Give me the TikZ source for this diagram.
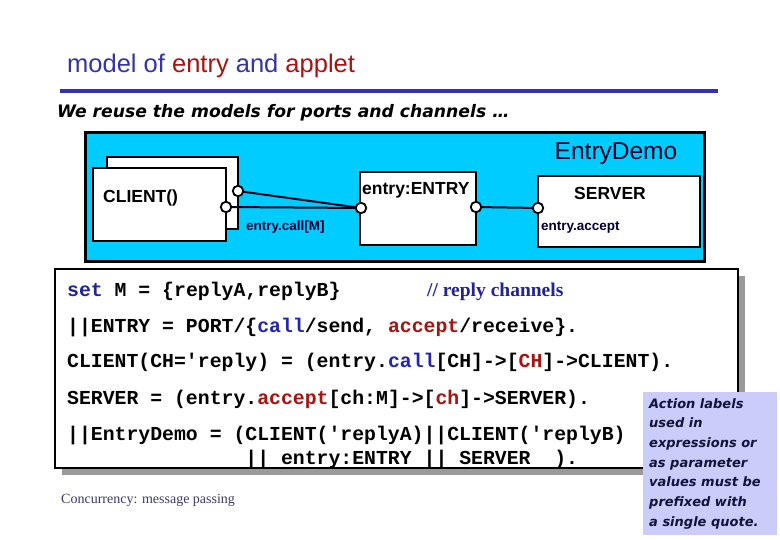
\documentclass[tikz,border=0pt]{standalone}
\usepackage{fontspec}
\setmainfont{Liberation Serif}
\setsansfont{Liberation Sans}
\setmonofont{Liberation Mono}
\newfontfamily\comicfont{DejaVu Sans}
\definecolor{tblue}{HTML}{3333AA}
\definecolor{tred}{HTML}{AA1111}
\definecolor{cyanbg}{HTML}{00CCFF}
\definecolor{lav}{HTML}{CCCCFA}
\definecolor{kwblue}{HTML}{22229A}
\definecolor{callblue}{HTML}{2323B8}
\definecolor{notetext}{HTML}{12123A}
\definecolor{footblue}{HTML}{3A3A6A}
\definecolor{shadowgray}{HTML}{9A9A9A}
\tikzset{
  procbox/.style={draw=black, fill=white, line width=2.4pt},
  port/.style={circle, draw=black, fill=white, line width=1.8pt, minimum size=10.5pt, inner sep=0pt},
  wire/.style={line width=2pt, draw=black!90!blue},
  boldlabel/.style={font=\sffamily\bfseries\fontsize{17.5}{17.5}\selectfont, inner sep=0pt},
  smalllabel/.style={font=\sffamily\bfseries\fontsize{13.5}{13.5}\selectfont, inner sep=0pt, text=black!80!blue},
  codeline/.style={anchor=base west, inner sep=0pt, font=\ttfamily\bfseries\fontsize{19.8}{19.8}\selectfont}
}
\begin{document}
\begin{tikzpicture}[x=1pt,y=-1pt]
\useasboundingbox (0,0) rectangle (780,540);
% title
\node[anchor=base west, inner sep=0pt, font=\sffamily\fontsize{25.5}{25.5}\selectfont, text=tblue] (title) at (67,73)
  {model of \textcolor{tred}{entry} and \textcolor{tred}{applet}};
\draw[tblue, line width=4pt] (60,91) -- (718,91);
\node[anchor=base west, inner sep=0pt, font=\comicfont\bfseries\itshape\fontsize{17.2}{17.2}\selectfont] (sub) at (57,118)
  {We reuse the models for ports and channels …};
% structure diagram
\draw[fill=cyanbg, draw=black, line width=3pt] (85,133) rectangle (704,262);
\node[font=\sffamily\fontsize{24.5}{24.5}\selectfont, text=black!85!blue, inner sep=0pt] (demo) at (616,154) {EntryDemo};
\draw[procbox] (107,157) rectangle (238,229);
\draw[procbox] (93,168) rectangle (226,241);
\node[boldlabel, anchor=base west] (clientlbl) at (103,203) {CLIENT()};
\draw[procbox] (360,172) rectangle (476,245);
\node[boldlabel, anchor=base west] (entrylbl) at (362,195) {entry:ENTRY};
\draw[procbox] (538,176) rectangle (700,247);
\node[boldlabel] (serverlbl) at (610,193) {SERVER};
\node[smalllabel, anchor=base west] (calllbl) at (246,231) {entry.call[M]};
\node[smalllabel, anchor=base west] (acceptlbl) at (541,231) {entry.accept};
\coordinate (pA) at (238,191);
\coordinate (pB) at (226,207);
\coordinate (pE) at (361,208);
\coordinate (pF) at (476,207);
\coordinate (pS) at (538,208);
\draw[wire] (pA) -- (pE);
\draw[wire] (pB) -- (pE);
\draw[wire] (pF) -- (pS);
\node[port] (cport1) at (pA) {};
\node[port] (cport2) at (pB) {};
\node[port] (eport1) at (pE) {};
\node[port] (eport2) at (pF) {};
\node[port] (sport) at (pS) {};
% code box
\fill[shadowgray] (62,276) rectangle (745,475);
\draw[fill=white, draw=black, line width=2pt] (55,269) rectangle (738,468);
\node[codeline] (c1) at (67,297) {\textcolor{kwblue}{set} M = \{replyA,replyB\}};
\node[anchor=base west, inner sep=0pt, font=\rmfamily\bfseries\fontsize{19.5}{19.5}\selectfont, text=kwblue] (cmt) at (427,297) {// reply channels};
\node[codeline] (c2) at (67,333) {||ENTRY = PORT/\{\textcolor{callblue}{call}/send, \textcolor{tred}{accept}/receive\}.};
\node[codeline] (c3) at (67,368) {CLIENT(CH='reply) = (entry.\textcolor{callblue}{call}[CH]->[\textcolor{tred}{CH}]->CLIENT).};
\node[codeline] (c4) at (67,404) {SERVER = (entry.\textcolor{tred}{accept}[ch:M]->[\textcolor{tred}{ch}]->SERVER).};
\node[codeline] (c5) at (67,440) {||EntryDemo = (CLIENT('replyA)||CLIENT('replyB)};
\node[codeline] (c6) at (67,464) {\phantom{||EntryDemo = (}|| entry:ENTRY || SERVER\ \ ).};
% footer
\node[anchor=base west, inner sep=0pt, font=\rmfamily\fontsize{14}{14}\selectfont, text=footblue] (foot) at (61,503) {Concurrency: message passing};
% note
\fill[lav] (643,392) rectangle (777,535);
\node[anchor=north west, inner sep=0pt, align=left, text=notetext,
      font=\comicfont\bfseries\itshape\fontsize{13}{19.7}\selectfont] (note) at (649,398)
  {Action labels\\used in\\expressions or\\as parameter\\values must be\\prefixed with\\a single quote.};
\end{tikzpicture}
\end{document}
